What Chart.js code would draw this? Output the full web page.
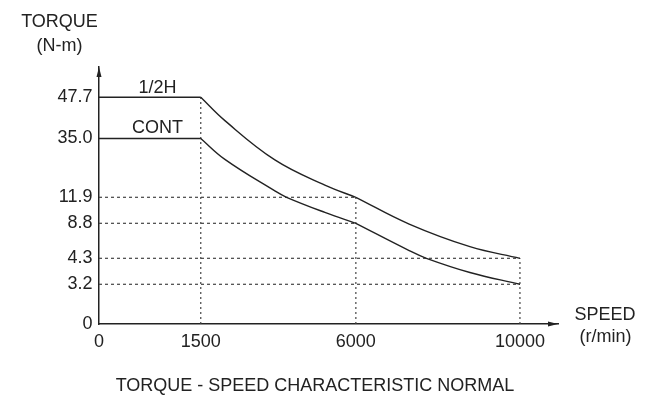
<!DOCTYPE html>
<html lang="en">
<head>
<meta charset="UTF-8">
<title>Torque - Speed Characteristic</title>
<script src="https://cdn.jsdelivr.net/npm/chart.js"></script>
<style>
    body {
        margin: 0;
        background: #ffffff;
    }
    .chart-container {
        width: 667px;
        height: 399px;
    }
</style>
</head>
<body>
<div class="chart-container">
    <canvas id="torqueChart" width="667" height="399"></canvas>
</div>
<script>
// values
const speedTicks = [0, 1500, 6000, 10000];
const torqueTicks = [0, 3.2, 4.3, 8.8, 11.9, 35.0, 47.7];
const torqueTickLabels = ['0', '3.2', '4.3', '8.8', '11.9', '35.0', '47.7'];

const halfSpeed = [0, 1500, 2200, 3650, 5100, 6000, 7300, 8780, 10000];
const halfTorque = [47.7, 47.7, 40.5, 26.6, 16.7, 11.9, 8.7, 5.8, 4.3];

const contSpeed = [0, 1500, 2200, 3650, 3990, 5100, 6000, 7300, 7720, 8780, 10000];
const contTorque = [35.0, 35.0, 26.8, 14.4, 11.9, 10.1, 8.8, 5.3, 4.3, 3.7, 3.2];

// the axes are schematic: each tick sits at its own place along the axis (0 = origin, 1 = arrow tip)
const speedStops = [0, 0.2217, 0.5596, 0.9171];
const torqueStops = [0, 0.1545, 0.2556, 0.3918, 0.4930, 0.7218, 0.8821];

const FONT = '"Liberation Sans", Arial, sans-serif';
const INK = '#222222';

function piece(v, from, to) {
    let i = 1;
    while (i < from.length - 1 && v > from[i]) i++;
    const t = (v - from[i - 1]) / (from[i] - from[i - 1]);
    return to[i - 1] + t * (to[i] - to[i - 1]);
}

const stops = {
    x: { values: speedTicks, at: speedStops },
    y: { values: torqueTicks, at: torqueStops }
};

class SchematicScale extends Chart.LinearScale {
    getPixelForValue(value) {
        const s = stops[this.id];
        return this.getPixelForDecimal(piece(value, s.values, s.at));
    }
    getValueForPixel(pixel) {
        const s = stops[this.id];
        return piece(this.getDecimalForPixel(pixel), s.at, s.values);
    }
}
SchematicScale.id = 'schematic';
SchematicScale.defaults = Chart.LinearScale.defaults;
Chart.register(SchematicScale);

// cut a curve into pieces at the corner speeds so the corners stay sharp
function pieces(xs, ys) {
    const out = [];
    let cur = [];
    xs.forEach((x, i) => {
        cur.push({ x: x, y: ys[i] });
        if (i > 0 && i < xs.length - 1 && speedTicks.includes(x)) {
            out.push(cur);
            cur = [{ x: x, y: ys[i] }];
        }
    });
    out.push(cur);
    return out;
}

const curves = [[halfSpeed, halfTorque], [contSpeed, contTorque]];
const datasets = [];

curves.forEach(([xs, ys]) => {
    pieces(xs, ys).forEach(seg => {
        datasets.push({
            data: seg,
            borderColor: INK,
            borderWidth: 1.4,
            pointRadius: 0,
            fill: false,
            tension: 0.4
        });
    });
});

// dotted guide lines from the axes to the corners
speedTicks.slice(1).forEach(s => {
    const tops = curves.map(([xs, ys]) => ys[xs.indexOf(s)]);
    datasets.push({
        data: [{ x: s, y: 0 }, { x: s, y: Math.max(...tops) }],
        borderColor: '#444444',
        borderWidth: 1.2,
        borderDash: [2, 3],
        pointRadius: 0
    });
    curves.forEach(([xs, ys]) => {
        const t = ys[xs.indexOf(s)];
        if (t === ys[0]) return; // flat part already drawn solid
        datasets.push({
            data: [{ x: 0, y: t }, { x: s, y: t }],
            borderColor: '#444444',
            borderWidth: 1.2,
            borderDash: [3, 3],
            pointRadius: 0
        });
    });
});

const decorations = {
    id: 'decorations',
    afterDraw(chart) {
        const { ctx, chartArea: a } = chart;
        ctx.save();
        ctx.fillStyle = INK;
        // arrow heads
        ctx.beginPath();
        ctx.moveTo(a.left, a.top);
        ctx.lineTo(a.left - 2.5, a.top + 10);
        ctx.lineTo(a.left + 2.5, a.top + 10);
        ctx.closePath();
        ctx.fill();
        ctx.beginPath();
        ctx.moveTo(a.right, a.bottom);
        ctx.lineTo(a.right - 10, a.bottom - 2.5);
        ctx.lineTo(a.right - 10, a.bottom + 2.5);
        ctx.closePath();
        ctx.fill();

        ctx.font = '18px ' + FONT;
        ctx.textAlign = 'center';
        ctx.textBaseline = 'alphabetic';
        ctx.fillText('TORQUE', 59.5, 26.7);
        ctx.fillText('(N-m)', 59.5, 50.5);
        ctx.fillText('1/2H', 157.5, 92.7);
        ctx.fillText('CONT', 157.5, 132.7);
        ctx.fillText('SPEED', 605, 320);
        ctx.fillText('(r/min)', 605.5, 341.5);
        ctx.fillText('TORQUE - SPEED CHARACTERISTIC NORMAL', 315, 390.7);
        ctx.restore();
    }
};

const ctx = document.getElementById('torqueChart').getContext('2d');

new Chart(ctx, {
    type: 'line',
    data: { datasets: datasets },
    plugins: [decorations],
    options: {
        responsive: false,
        animation: false,
        events: [],
        devicePixelRatio: 1,
        layout: { padding: { top: 67, right: 109, bottom: 0, left: 0 } },
        plugins: {
            legend: { display: false },
            tooltip: { enabled: false }
        },
        scales: {
            x: {
                type: 'schematic',
                min: 0,
                max: 11000,
                grid: { display: false, drawTicks: false },
                border: { display: true, color: INK, width: 1.5 },
                ticks: {
                    autoSkip: false,
                    maxRotation: 0,
                    padding: 7,
                    color: INK,
                    font: { family: FONT, size: 18 },
                    callback: v => String(v)
                },
                afterBuildTicks: s => { s.ticks = speedTicks.map(v => ({ value: v })); },
                afterFit: s => { s.height = 75; }
            },
            y: {
                type: 'schematic',
                min: 0,
                max: 60,
                grid: { display: false, drawTicks: false },
                border: { display: true, color: INK, width: 1.5 },
                ticks: {
                    autoSkip: false,
                    padding: 6.5,
                    color: INK,
                    font: { family: FONT, size: 18 },
                    callback: (v, i) => torqueTickLabels[i]
                },
                afterBuildTicks: s => { s.ticks = torqueTicks.map(v => ({ value: v })); },
                afterFit: s => { s.width = 99; }
            }
        }
    }
});
</script>
</body>
</html>
